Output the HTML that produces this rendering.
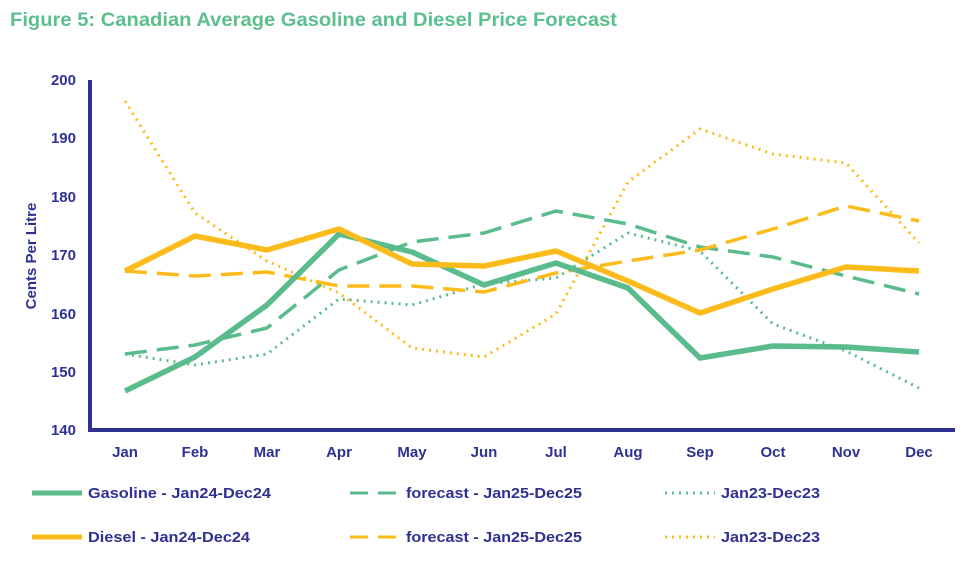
<!DOCTYPE html>
<html><head><meta charset="utf-8"><style>
body{margin:0;background:#fff;width:979px;height:571px;overflow:hidden;font-family:"Liberation Sans",sans-serif}
</style></head><body>
<svg width="979" height="571" xmlns="http://www.w3.org/2000/svg" font-family="Liberation Sans, sans-serif">
<text x="10" y="26" fill="#5cbf8e" font-size="19" font-weight="bold" textLength="607" lengthAdjust="spacingAndGlyphs">Figure 5: Canadian Average Gasoline and Diesel Price Forecast</text>
<g fill="#2e3192" font-size="15" font-weight="bold" text-anchor="end">
<text x="76" y="85">200</text><text x="76" y="143">190</text><text x="76" y="202">180</text><text x="76" y="260">170</text><text x="76" y="319">160</text><text x="76" y="377">150</text><text x="76" y="435">140</text>
</g>
<text transform="translate(36,256) rotate(-90)" fill="#2e3192" font-size="15" font-weight="bold" text-anchor="middle">Cents Per Litre</text>
<g fill="#2e3192" font-size="15" font-weight="bold" text-anchor="middle">
<text x="125" y="457">Jan</text><text x="195" y="457">Feb</text><text x="267" y="457">Mar</text><text x="339" y="457">Apr</text><text x="412" y="457">May</text><text x="484" y="457">Jun</text><text x="556" y="457">Jul</text><text x="628" y="457">Aug</text><text x="700" y="457">Sep</text><text x="773" y="457">Oct</text><text x="846" y="457">Nov</text><text x="919" y="457">Dec</text>
</g>
<g fill="none" stroke-linejoin="round" stroke-linecap="butt">
<polyline stroke="#fbbc1b" stroke-width="3" stroke-dasharray="2,5" points="125,101 195,213 267,261 339,293 412,348 484,357 556,314 628,182 700,129 773,154 846,163 919,243"/>
<polyline stroke="#5abb8c" stroke-width="3" stroke-dasharray="2,5" points="125,354 195,365 267,354 339,299 412,305 484,284 556,278 628,233 700,251 773,324 846,351 919,388"/>
<polyline stroke="#5abb8c" stroke-width="3.5" stroke-dasharray="22,10" points="125,354 195,345 267,328 339,270 412,242 484,233 556,211 628,224 700,247 773,257 846,276 919,294"/>
<polyline stroke="#fbbc1b" stroke-width="3.5" stroke-dasharray="22,10" points="125,271 195,276 267,272 339,286 412,286 484,292 556,273 628,261 700,250 773,229 846,206 919,221"/>
<polyline stroke="#5abb8c" stroke-width="5.5" points="125,391 195,357 267,305 339,234 412,252 484,285 556,263 628,288 700,358 773,346 846,347 919,352"/>
<polyline stroke="#fbbc1b" stroke-width="5.5" points="125,271 195,236 267,250 339,229 412,264 484,266 556,251 628,281 700,313 773,289 846,267 919,271"/>
</g>
<path d="M90,80 V430 H955" fill="none" stroke="#2e3192" stroke-width="4"/>
<g font-size="15" font-weight="bold" fill="#2e3192">
<line x1="32" y1="493" x2="82" y2="493" stroke="#5abb8c" stroke-width="5"/><text x="88" y="498" textLength="183" lengthAdjust="spacingAndGlyphs">Gasoline - Jan24-Dec24</text>
<line x1="350" y1="493" x2="400" y2="493" stroke="#5abb8c" stroke-width="3" stroke-dasharray="18,10"/><text x="406" y="498" textLength="176" lengthAdjust="spacingAndGlyphs">forecast - Jan25-Dec25</text>
<line x1="665" y1="493" x2="715" y2="493" stroke="#5abb8c" stroke-width="3" stroke-dasharray="2,5"/><text x="721" y="498" textLength="99" lengthAdjust="spacingAndGlyphs">Jan23-Dec23</text>
<line x1="32" y1="537" x2="82" y2="537" stroke="#fbbc1b" stroke-width="5"/><text x="88" y="542" textLength="162" lengthAdjust="spacingAndGlyphs">Diesel - Jan24-Dec24</text>
<line x1="350" y1="537" x2="400" y2="537" stroke="#fbbc1b" stroke-width="3" stroke-dasharray="18,10"/><text x="406" y="542" textLength="176" lengthAdjust="spacingAndGlyphs">forecast - Jan25-Dec25</text>
<line x1="665" y1="537" x2="715" y2="537" stroke="#fbbc1b" stroke-width="3" stroke-dasharray="2,5"/><text x="721" y="542" textLength="99" lengthAdjust="spacingAndGlyphs">Jan23-Dec23</text>
</g>
</svg>
</body></html>
